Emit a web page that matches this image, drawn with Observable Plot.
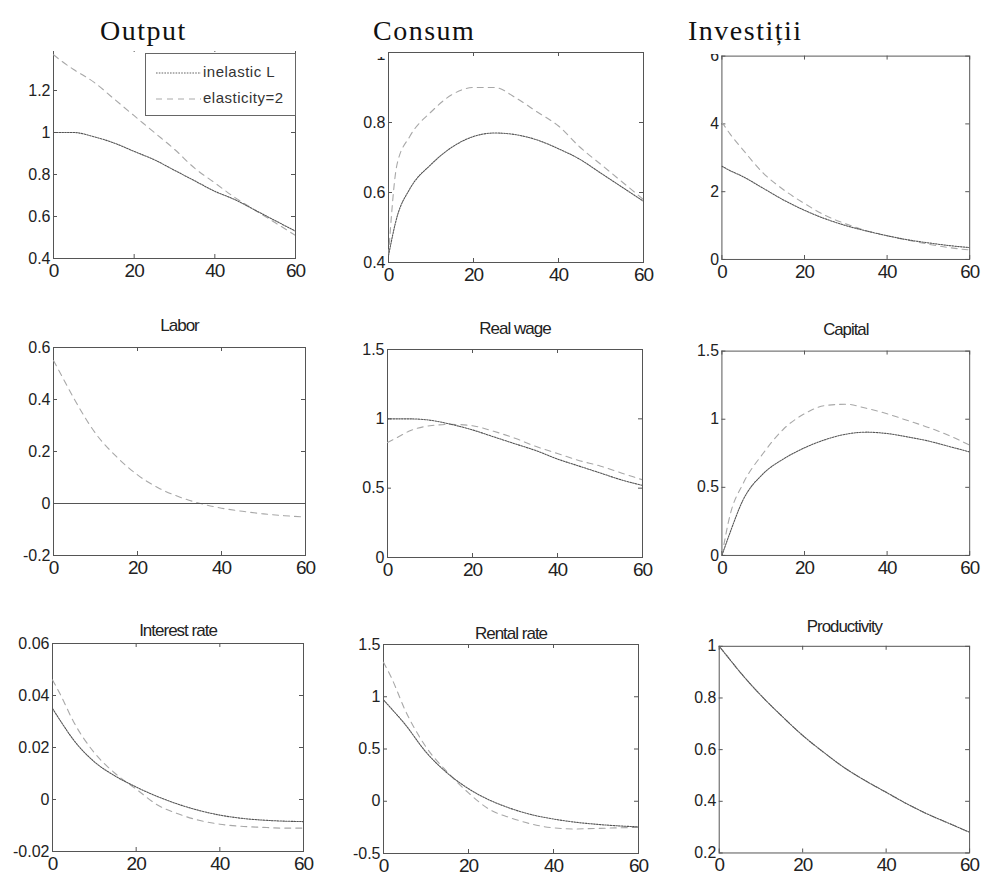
<!DOCTYPE html>
<html>
<head>
<meta charset="utf-8">
<script src="https://cdn.jsdelivr.net/npm/d3@7"></script>
<script src="https://cdn.jsdelivr.net/npm/@observablehq/plot@0.6"></script>
<style>
  body { margin: 0; background: white; }
  #wrap { position: relative; width: 984px; height: 877px; overflow: hidden; background: white; }
  .panel { position: absolute; }
  .panel svg { background: transparent !important; }
  .mask { position: absolute; background: white; }
  .big { position: absolute; font-family: "Liberation Serif", "Times New Roman", serif; font-size: 28px; letter-spacing: 1.5px; color: #111; line-height: 20px; height: 20px; white-space: nowrap; }
  .legend { position: absolute; left: 145px; top: 53px; width: 149px; height: 61px; border: 1px solid #666; background: white; }
  .legend span { position: absolute; left: 57px; font-family: "Liberation Sans", Arial, sans-serif; font-size: 15px; letter-spacing: 0.5px; color: #333; white-space: nowrap; }
</style>
</head>
<body>
<div id="wrap"></div>
<script>
// ---- data ----
const t = [0, 2, 5, 10, 15, 20, 25, 30, 35, 40, 45, 50, 55, 60];
const xTicks = [0, 20, 40, 60];
const seriesNames = ["inelastic L", "elasticity=2"];

const outputInelastic  = [1.0, 1.0, 1.0, 0.98, 0.95, 0.91, 0.87, 0.82, 0.77, 0.72, 0.68, 0.63, 0.58, 0.53];
const outputElastic    = [1.37, 1.34, 1.30, 1.24, 1.16, 1.08, 1.00, 0.92, 0.83, 0.76, 0.69, 0.63, 0.57, 0.51];
const consumInelastic  = [0.42, 0.53, 0.61, 0.68, 0.73, 0.76, 0.77, 0.765, 0.75, 0.725, 0.695, 0.655, 0.615, 0.575];
const consumElastic    = [0.42, 0.68, 0.76, 0.83, 0.88, 0.90, 0.90, 0.87, 0.83, 0.79, 0.73, 0.68, 0.63, 0.58];
const investInelastic  = [2.75, 2.62, 2.45, 2.1, 1.75, 1.45, 1.2, 1.0, 0.84, 0.70, 0.58, 0.49, 0.41, 0.35];
const investElastic    = [4.05, 3.7, 3.25, 2.55, 2.05, 1.65, 1.3, 1.05, 0.85, 0.70, 0.57, 0.45, 0.35, 0.28];
const laborInelastic   = [0, 0, 0, 0, 0, 0, 0, 0, 0, 0, 0, 0, 0, 0];
const laborElastic     = [0.55, 0.49, 0.40, 0.27, 0.18, 0.11, 0.06, 0.025, 0.0, -0.018, -0.03, -0.04, -0.047, -0.052];
const wageInelastic    = [1.0, 1.0, 1.0, 0.99, 0.96, 0.92, 0.87, 0.82, 0.77, 0.71, 0.66, 0.61, 0.56, 0.52];
const wageElastic      = [0.83, 0.86, 0.91, 0.95, 0.96, 0.95, 0.91, 0.86, 0.80, 0.75, 0.70, 0.66, 0.61, 0.56];
const capitalInelastic = [0, 0.17, 0.40, 0.60, 0.71, 0.79, 0.85, 0.89, 0.905, 0.895, 0.87, 0.84, 0.80, 0.76];
const capitalElastic   = [0, 0.30, 0.52, 0.75, 0.93, 1.04, 1.10, 1.11, 1.08, 1.04, 0.99, 0.94, 0.88, 0.81];
const interestInelastic= [0.035, 0.030, 0.023, 0.0145, 0.009, 0.0048, 0.0012, -0.0018, -0.0042, -0.006, -0.0072, -0.0079, -0.0083, -0.0085];
const interestElastic  = [0.046, 0.040, 0.030, 0.018, 0.010, 0.004, -0.002, -0.0055, -0.008, -0.0095, -0.0103, -0.0107, -0.011, -0.011];
const rentalInelastic  = [0.97, 0.88, 0.74, 0.47, 0.27, 0.12, 0.01, -0.07, -0.13, -0.17, -0.20, -0.22, -0.235, -0.245];
const rentalElastic    = [1.33, 1.17, 0.88, 0.52, 0.28, 0.08, -0.08, -0.16, -0.22, -0.255, -0.265, -0.26, -0.255, -0.25];
const prodInelastic    = [1.0, 0.96, 0.90, 0.81, 0.73, 0.655, 0.59, 0.53, 0.48, 0.435, 0.39, 0.35, 0.315, 0.28];
const prodElastic      = [1.0, 0.96, 0.90, 0.81, 0.73, 0.655, 0.59, 0.53, 0.48, 0.435, 0.39, 0.35, 0.315, 0.28];

const bigTitles = ["Output", "Consum", "Investiții"];
const subTitles = ["Labor", "Real wage", "Capital", "Interest rate", "Rental rate", "Productivity"];

// ---- layout (frame pixel boxes) ----
const panels = [
  {L: 53,  R: 295, T: 48,  B: 258, domain: [0.4, 1.4], yTicks: [0.4, 0.6, 0.8, 1, 1.2], a: outputInelastic, b: outputElastic, title: null},
  {L: 388, R: 643, T: 52,  B: 262, domain: [0.4, 1],   yTicks: [0.4, 0.6, 0.8, 1], a: consumInelastic, b: consumElastic, title: null, topShift: 7},
  {L: 722, R: 973, T: 56,  B: 262, domain: [0, 6],     yTicks: [0, 2, 4, 6], a: investInelastic, b: investElastic, title: null},
  {L: 53,  R: 305, T: 347, B: 555, domain: [-0.2, 0.6], yTicks: [-0.2, 0, 0.2, 0.4, 0.6], a: laborInelastic, b: laborElastic, title: subTitles[0], gap: 17},
  {L: 387, R: 642, T: 349, B: 557, domain: [0, 1.5],   yTicks: [0, 0.5, 1, 1.5], a: wageInelastic, b: wageElastic, title: subTitles[1], gap: 16},
  {L: 722, R: 973, T: 351, B: 558, domain: [0, 1.5],   yTicks: [0, 0.5, 1, 1.5], a: capitalInelastic, b: capitalElastic, title: subTitles[2], gap: 16},
  {L: 52,  R: 303, T: 643, B: 851, domain: [-0.02, 0.06], yTicks: [-0.02, 0, 0.02, 0.04, 0.06], a: interestInelastic, b: interestElastic, title: subTitles[3], gap: 8},
  {L: 383, R: 638, T: 644, B: 853, domain: [-0.5, 1.5], yTicks: [-0.5, 0, 0.5, 1, 1.5], a: rentalInelastic, b: rentalElastic, title: subTitles[4], gap: 6},
  {L: 719, R: 971, T: 646, B: 854, domain: [0.2, 1],   yTicks: [0.2, 0.4, 0.6, 0.8, 1], a: prodInelastic, b: prodElastic, title: subTitles[5], gap: 14}
];

const wrap = document.getElementById("wrap");
const mL = 45, mR = 15, mT = 30, mB = 30;
const frameColor = "#555";

for (const p of panels) {
  const innerW = p.R - p.L, innerH = p.B - p.T;
  const rows = [];
  t.forEach((x, i) => {
    rows.push({x, y: p.a[i], s: seriesNames[0]});
    rows.push({x, y: p.b[i], s: seriesNames[1]});
  });
  const marks = [
    Plot.frame({stroke: frameColor}),
    Plot.tickX(xTicks, {x: d => d, insetTop: innerH - 4, stroke: frameColor}),
    Plot.tickX(xTicks, {x: d => d, insetBottom: innerH - 4, stroke: frameColor}),
    Plot.tickY(p.yTicks, {y: d => d, insetRight: innerW - 4, stroke: frameColor}),
    Plot.tickY(p.yTicks, {y: d => d, insetLeft: innerW - 4, stroke: frameColor}),
    Plot.axisX({ticks: xTicks, tickSize: 0, tickPadding: 5, fontSize: 19, label: null, tickFormat: d => String(d)}),
    Plot.axisY({ticks: p.yTicks, tickSize: 0, tickPadding: 3, fontSize: 16, label: null, tickFormat: d => String(d)}),
    Plot.line(rows.filter(r => r.s === seriesNames[1]), {x: "x", y: "y", stroke: "#a8a8a8", strokeWidth: 1.1, strokeDasharray: "6,5", curve: "monotone-x", clip: true}),
    Plot.line(rows.filter(r => r.s === seriesNames[0]), {x: "x", y: "y", stroke: "#555", strokeWidth: 1.1, strokeDasharray: p.a === laborInelastic ? null : "1.6,1.2", curve: "monotone-x", clip: true})
  ];
  if (p.title) {
    marks.push(Plot.text([p.title], {text: d => d, frameAnchor: "top", dy: -p.gap, lineAnchor: "bottom", fontSize: 17, fill: "#222"}));
  }
  const svg = Plot.plot({
    width: innerW + mL + mR,
    height: innerH + mT + mB,
    marginLeft: mL, marginRight: mR, marginTop: mT, marginBottom: mB,
    x: {domain: [0, 60]},
    y: {domain: p.domain},
    style: {background: "transparent", color: "#222", fontFamily: "'Liberation Sans', Arial, sans-serif", overflow: "visible"},
    marks
  });
  const d3svg = d3.select(svg);
  d3svg.selectAll('[aria-label="x-axis tick label"] text').style("letter-spacing", "-1px");
  d3svg.selectAll('[aria-label="text"] text').style("letter-spacing", "-1px");
  if (p.topShift) {
    const top = String(p.yTicks[p.yTicks.length - 1]);
    d3svg.selectAll('[aria-label="y-axis tick label"] text')
      .filter(function() { return this.textContent === top; })
      .attr("y", p.topShift);
  }
  const div = document.createElement("div");
  div.className = "panel";
  div.style.left = (p.L - mL) + "px";
  div.style.top = (p.T - mT) + "px";
  div.appendChild(svg);
  wrap.appendChild(div);
}

// masks over the cropped top strip of the scan
const masks = [
  {left: 0, top: 0, width: 984, height: 51},
  {left: 360, top: 0, width: 26, height: 57},
  {left: 700, top: 0, width: 21, height: 54}
];
for (const m of masks) {
  const d = document.createElement("div");
  d.className = "mask";
  Object.assign(d.style, {left: m.left + "px", top: m.top + "px", width: m.width + "px", height: m.height + "px"});
  wrap.appendChild(d);
}

// big titles
const bigPos = [100, 373, 688];
bigTitles.forEach((s, i) => {
  const d = document.createElement("div");
  d.className = "big";
  d.textContent = s;
  d.style.left = bigPos[i] + "px";
  d.style.top = "21px";
  wrap.appendChild(d);
});

// legend
const leg = document.createElement("div");
leg.className = "legend";
leg.innerHTML = `
  <svg width="60" height="61" style="position:absolute;left:0;top:0">
    <line x1="10" x2="55" y1="19" y2="19" stroke="#666" stroke-width="1.1" stroke-dasharray="1.6,1.2"/>
    <line x1="10" x2="55" y1="45" y2="45" stroke="#aaa" stroke-width="1.1" stroke-dasharray="6,5"/>
  </svg>
  <span style="top:9px">${seriesNames[0]}</span>
  <span style="top:35px">${seriesNames[1]}</span>`;
wrap.appendChild(leg);
</script>
</body>
</html>
